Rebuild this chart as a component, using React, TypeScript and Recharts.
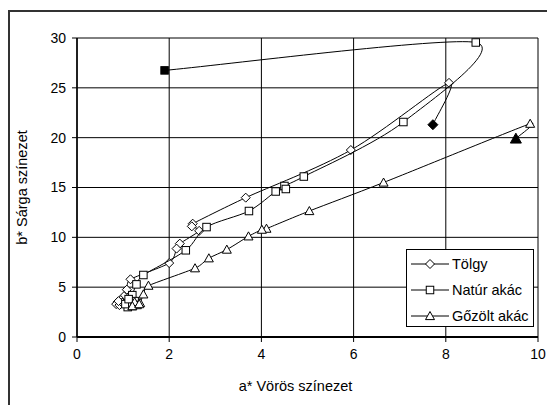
import { ScatterChart, Scatter, XAxis, YAxis, CartesianGrid, Legend } from 'recharts'

// a* (x) and b* (y) readings, in measurement order (first point drawn filled)
const toelgyX = [7.72, 8.07, 5.94, 3.66, 2.51, 2.49, 2.65, 2.23, 2.16, 2.0, 1.16, 1.08, 1.02, 0.95, 0.88, 0.85, 0.92, 0.98, 0.9]
const toelgyY = [21.3, 25.5, 18.76, 13.98, 11.37, 11.1, 10.65, 9.37, 8.87, 7.42, 5.79, 4.75, 4.1, 3.7, 3.5, 3.3, 3.2, 3.45, 3.6]

const naturX = [1.9, 8.65, 7.08, 4.92, 4.5, 4.53, 4.31, 3.73, 2.81, 2.36, 1.44, 1.29, 1.2, 1.15, 1.1, 1.05, 1.2, 1.25, 1.12]
const naturY = [26.75, 29.55, 21.57, 16.1, 15.15, 14.85, 14.6, 12.64, 11.03, 8.7, 6.22, 5.28, 4.2, 3.5, 3.0, 3.3, 3.1, 3.6, 3.8]

const gozoltX = [9.52, 9.83, 6.65, 5.04, 4.11, 4.01, 3.72, 3.25, 2.86, 2.56, 1.55, 1.44, 1.37, 1.3, 1.25, 1.2, 1.35]
const gozoltY = [19.9, 21.4, 15.5, 12.64, 10.87, 10.77, 10.1, 8.77, 7.9, 6.9, 5.15, 4.28, 3.41, 3.2, 3.5, 3.1, 3.3]

const xTicks = [0, 2, 4, 6, 8, 10]
const yTicks = [0, 5, 10, 15, 20, 25, 30]

const FONT = '"Liberation Sans", Arial, sans-serif'

const zip = (xs: number[], ys: number[]) => xs.map((x, i) => ({ x, y: ys[i] }))

const series = [
  { name: 'Tölgy', kind: 'diamond', data: zip(toelgyX, toelgyY) },
  { name: 'Natúr akác', kind: 'square', data: zip(naturX, naturY) },
  { name: 'Gőzölt akác', kind: 'triangle', data: zip(gozoltX, gozoltY) }
]

const dist = (a: number[], b: number[]) => Math.hypot(a[0] - b[0], a[1] - b[1])

// Excel-like smoothed line: Catmull-Rom tangents, damped where neighbouring segments differ a lot
const excelSmooth = (context: any) => {
  let pts: number[][] = []
  const tangent = (i: number) => {
    const p0 = pts[i - 1] || pts[i]
    const p2 = pts[i + 1] || pts[i]
    let k = 1
    if (pts[i - 1] && pts[i + 1]) {
      const d1 = dist(p0, pts[i])
      const d2 = dist(pts[i], p2)
      k = d1 + d2 > 0 ? Math.sqrt((2 * Math.min(d1, d2)) / (d1 + d2)) : 0
    }
    return [((p2[0] - p0[0]) / 6) * k, ((p2[1] - p0[1]) / 6) * k]
  }
  return {
    areaStart() {},
    areaEnd() {},
    lineStart() {
      pts = []
    },
    point(x: number, y: number) {
      pts.push([+x, +y])
    },
    lineEnd() {
      if (!pts.length) return
      context.moveTo(pts[0][0], pts[0][1])
      for (let i = 0; i < pts.length - 1; i++) {
        const p1 = pts[i]
        const p2 = pts[i + 1]
        const t1 = tangent(i)
        const t2 = tangent(i + 1)
        context.bezierCurveTo(p1[0] + t1[0], p1[1] + t1[1], p2[0] - t2[0], p2[1] - t2[1], p2[0], p2[1])
      }
    }
  }
}

function Marker({ kind, cx, cy, filled }: { kind: string; cx: number; cy: number; filled?: boolean }) {
  const fill = filled ? '#000' : '#fff'
  if (kind === 'diamond') {
    const r = filled ? 5 : 4.5
    return (
      <polygon
        points={`${cx},${cy - r} ${cx + r},${cy} ${cx},${cy + r} ${cx - r},${cy}`}
        fill={fill}
        stroke="#000"
        strokeWidth={1}
      />
    )
  }
  if (kind === 'square') {
    const r = 3.75
    return <rect x={cx - r} y={cy - r} width={r * 2} height={r * 2} fill={fill} stroke="#000" strokeWidth={1} />
  }
  const r = filled ? 5.5 : 4.5
  return (
    <polygon
      points={`${cx},${cy - r} ${cx + r},${cy + r * 0.8} ${cx - r},${cy + r * 0.8}`}
      fill={fill}
      stroke="#000"
      strokeWidth={1}
    />
  )
}

function LegendBox() {
  return (
    <div
      style={{
        width: 128,
        height: 78,
        boxSizing: 'border-box',
        border: '1px solid #000',
        background: '#fff',
        fontFamily: FONT,
        fontSize: 14.5,
        color: '#000',
        paddingTop: 1
      }}
    >
      {series.map((s) => (
        <div key={s.name} style={{ display: 'flex', alignItems: 'center', height: 26 }}>
          <svg width={42} height={14} style={{ marginLeft: 3, flex: 'none' }}>
            <line x1={1} x2={39} y1={7} y2={7} stroke="#000" strokeWidth={1} />
            <Marker kind={s.kind} cx={20} cy={7} />
          </svg>
          <span style={{ whiteSpace: 'nowrap' }}>{s.name}</span>
        </div>
      ))}
    </div>
  )
}

export default function App() {
  return (
    <div
      style={{
        position: 'absolute',
        left: 0,
        top: 0,
        width: 547,
        height: 405,
        overflow: 'hidden',
        background: '#fff',
        fontFamily: FONT
      }}
    >
      <div
        style={{
          position: 'absolute',
          left: 8,
          top: 10,
          width: 700,
          height: 600,
          borderLeft: '2px solid #333',
          borderTop: '2px solid #333'
        }}
      />
      <ScatterChart
        width={547}
        height={405}
        margin={{ top: 38, right: 9, bottom: 0, left: 16 }}
        style={{ position: 'absolute', left: 0, top: 0 }}
      >
        <CartesianGrid stroke="#000" strokeWidth={1} />
        <XAxis
          type="number"
          dataKey="x"
          domain={[0, 10]}
          ticks={xTicks}
          interval={0}
          height={68}
          tickSize={5}
          tickMargin={7}
          stroke="#000"
          axisLine={{ stroke: '#000', strokeWidth: 2 }}
          tick={{ fill: '#000', fontSize: 14, fontFamily: FONT }}
          label={{
            content: ({ viewBox }: any) => (
              <text
                x={viewBox.x + viewBox.width / 2 - 12}
                y={viewBox.y + 49}
                textAnchor="middle"
                dominantBaseline="central"
                fontSize={14.5}
                fontFamily={FONT}
                fill="#000"
              >
                a* Vörös színezet
              </text>
            )
          }}
        />
        <YAxis
          type="number"
          dataKey="y"
          domain={[0, 30]}
          ticks={yTicks}
          interval={0}
          width={61}
          tickSize={5}
          tickMargin={6}
          stroke="#000"
          axisLine={{ stroke: '#000', strokeWidth: 1.5 }}
          tick={{ fill: '#000', fontSize: 14, fontFamily: FONT }}
          label={{
            content: ({ viewBox }: any) => {
              const cx = viewBox.x + 6
              const cy = viewBox.y + viewBox.height / 2
              return (
                <text
                  x={cx}
                  y={cy}
                  transform={`rotate(-90 ${cx} ${cy})`}
                  textAnchor="middle"
                  dominantBaseline="central"
                  fontSize={14.5}
                  fontFamily={FONT}
                  fill="#000"
                >
                  b* Sárga színezet
                </text>
              )
            }
          }}
        />
        {series.map((s) => (
          <Scatter
            key={s.name}
            name={s.name}
            data={s.data}
            line={{ stroke: '#000', strokeWidth: 1 }}
            lineType="joint"
            lineJointType={excelSmooth as any}
            isAnimationActive={false}
            shape={(p: any) => (
              <Marker
                kind={s.kind}
                cx={p.cx}
                cy={p.cy}
                filled={p.payload && p.payload.x === s.data[0].x && p.payload.y === s.data[0].y}
              />
            )}
          />
        ))}
        <Legend
          layout="vertical"
          align="center"
          verticalAlign="middle"
          wrapperStyle={{ position: 'absolute', left: 406, top: 249, width: 128, height: 78 }}
          content={() => <LegendBox />}
        />
      </ScatterChart>
    </div>
  )
}
